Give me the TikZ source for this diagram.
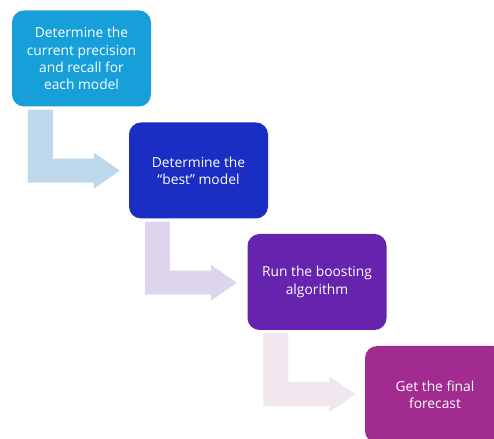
\documentclass[tikz,border=0pt]{standalone}
\usepackage{fontspec}
\setmainfont{Open Sans}
\usetikzlibrary{calc}
\definecolor{cA}{HTML}{169FD8}
\definecolor{cB}{HTML}{1A2EC4}
\definecolor{cC}{HTML}{6623AE}
\definecolor{cD}{HTML}{A12B8F}
\definecolor{aA}{HTML}{BED8EB}
\definecolor{aB}{HTML}{DCD5EC}
\definecolor{aC}{HTML}{F0E7EF}
\newcommand\bentarrow[2]{%
  \fill[#2] ($(#1.south west)+(16,-3)$) -- ($(#1.south west)+(41,-3)$) --
    ($(#1.south west)+(41,-52)$) -- ($(#1.south west)+(82,-52)$) --
    ($(#1.south west)+(82,-46)$) -- ($(#1.south west)+(108,-64)$) --
    ($(#1.south west)+(82,-82)$) -- ($(#1.south west)+(82,-76)$) --
    ($(#1.south west)+(16,-76)$) -- cycle;}
\begin{document}
\begin{tikzpicture}[x=1pt,y=1pt,
  stepbox/.style={rounded corners=12pt, minimum width=139pt, minimum height=96pt,
    text=white, align=center, inner sep=0pt,
    font=\fontsize{13.8}{17.2}\selectfont}]
\useasboundingbox (0,0) rectangle (494,438);
\begin{scope}
\clip (0,0) rectangle (494,438);
\node[stepbox, fill=cA] (b1) at (81.5,379.5) {Determine the\\current precision\\and recall for\\each model};
\node[stepbox, fill=cB] (b2) at (198.5,267.5) {Determine the\\“best” model};
\node[stepbox, fill=cC] (b3) at (317,156) {Run the boosting\\algorithm};
\node[stepbox, fill=cD, minimum width=140pt, minimum height=97pt] (b4) at (435,43.5) {Get the final\\forecast};
\bentarrow{b1}{aA}
\bentarrow{b2}{aB}
\bentarrow{b3}{aC}
\end{scope}
\end{tikzpicture}
\end{document}
